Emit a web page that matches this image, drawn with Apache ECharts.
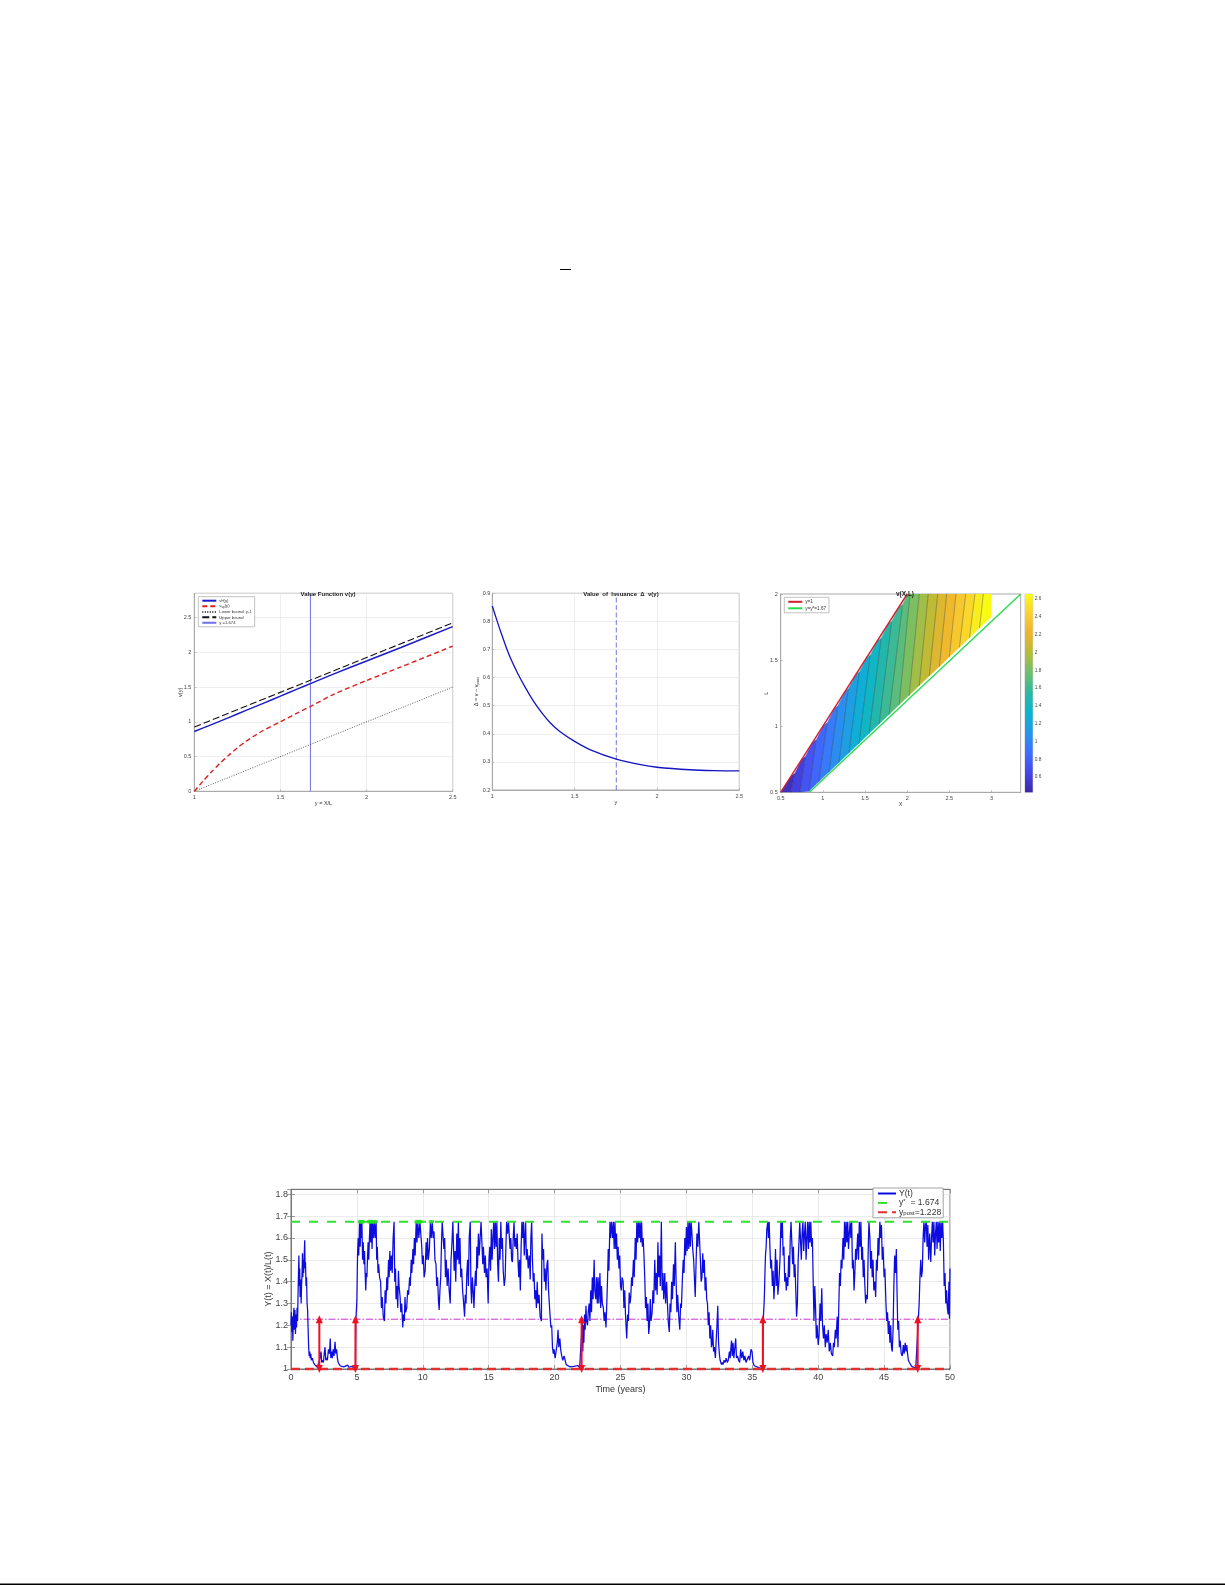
<!DOCTYPE html><html><head><meta charset="utf-8"><script src="https://cdn.jsdelivr.net/npm/echarts@6/dist/echarts.min.js"></script></head><body style="margin:0;background:#fff"><div id="c" style="width:1225px;height:1585px"></div><script>
// ---- Panel 1: value function
var vY=[1,1.1,1.2,1.3,1.4,1.5,1.6,1.674,1.8,2,2.2,2.5];
var vBlue=[.86,.96,1.06,1.165,1.265,1.37,1.475,1.55,1.68,1.875,2.07,2.37];
var redY=[1,1.05,1.1,1.15,1.2,1.25,1.3,1.4,1.5,1.6,1.674,1.8,2,2.2,2.5];
var vRed=[0,.145,.28,.405,.52,.625,.72,.875,1.0,1.13,1.22,1.385,1.595,1.79,2.09];
var upperY=[1,2.5], vUpper=[.925,2.425];
var lowerY=[1,2.5], vLower=[0,1.5];
var yStar=1.674;
// ---- Panel 2: issuance value
var issY=[1,1.03,1.05,1.1,1.15,1.2,1.25,1.3,1.35,1.41,1.5,1.6,1.753,1.9,2,2.2,2.35,2.5];
var issV=[.855,.8,.765,.684,.62,.565,.516,.475,.44,.408,.373,.342,.31,.29,.281,.272,.269,.268];
var issVline=1.753;
// ---- Panel 3: contour bands (levels, contour line end points)
var contourLevels=[.44,.55,.66,.77,.88,.99,1.10,1.21,1.32,1.43,1.54,1.65,1.76,1.87,1.98,2.09,2.2,2.31,2.42,2.53,2.64,2.75];
var contourBottomX=[.5,.62,.727,.834,.953,1.072,1.191,1.31,1.429,1.548,1.667,1.786,1.905,2.024,2.143,2.262,2.382,2.5,2.62,2.739,2.858,3];
var contourBottomL=[.5,.5,.5,.508,.581,.653,.726,.799,.871,.944,1.017,1.089,1.162,1.234,1.307,1.38,1.452,1.525,1.597,1.67,1.743,1.83];
var contourTopX=[.5,.665,.79,.92,1.05,1.176,1.3,1.43,1.56,1.69,1.815,1.945,2.033,2.144,2.25,2.362,2.469,2.579,2.694,2.804,2.903,3];
var contourTopL=[.5,.64,.767,.895,1.023,1.151,1.279,1.407,1.535,1.663,1.791,1.919,2,2,2,2,2,2,2,2,2,2];
var parulaStops=['#3e26a8','#4747eb','#3e6fff','#2796eb','#08b5d0','#2cb8a0','#6cbf70','#b4bd38','#edb42c','#fccf30','#f9fb15'];
var colorMin=.428,colorMax=2.656;
var colorTicks=[.6,.8,1,1.2,1.4,1.6,1.8,2,2.2,2.4,2.6];
var redBoundaryL=[.5,2], greenBoundaryX=[.84,3.346], greenBoundaryL=[.5,2];
// ---- Panel 4: simulated path
var yPost=1.228;
var issueTimes=[2.15,4.89,22.05,35.8,47.55];
var barrierHits=[5.2,5.3,5.38,5.45,5.9,6,6.1,6.2,6.33,6.46,9.5,9.62,9.7,9.78,9.85,10.58,10.72];
var pathPoints=[[0,1.2],[.03,1.26],[.06,1.17],[.1,1.24],[.14,1.13],[.18,1.22],[.22,1.28],[.26,1.18],[.3,1.27],[.34,1.16],[.38,1.25],[.42,1.19],[.46,1.28],[.5,1.22],[.54,1.36],[.57,1.44],[.6,1.52],[.63,1.38],[.66,1.46],[.69,1.33],[.73,1.41],[.77,1.3],[.8,1.38],[.84,1.44],[.87,1.53],[.9,1.42],[.93,1.5],[.96,1.44],[1,1.52],[1.04,1.59],[1.07,1.46],[1.1,1.49],[1.14,1.38],[1.18,1.42],[1.22,1.3],[1.26,1.27],[1.3,1.18],[1.34,1.1],[1.38,1.06],[1.42,1.08],[1.46,1.05],[1.5,1.07],[1.55,1.04],[1.62,1.05],[1.7,1.03],[1.8,1.02],[1.9,1.012],[2,1.008],[2.1,1],[2.15,1],[2.2,1.05],[2.28,1.08],[2.33,1.03],[2.4,1.04],[2.46,1.03],[2.52,1.07],[2.58,1.1],[2.64,1.04],[2.7,1.05],[2.76,1.04],[2.84,1.09],[2.92,1.07],[2.98,1.14],[3.02,1.05],[3.08,1.08],[3.14,1.05],[3.2,1.09],[3.27,1.06],[3.34,1.125],[3.4,1.07],[3.46,1.09],[3.52,1.05],[3.58,1.03],[3.64,1.025],[3.72,1.015],[3.85,1.012],[4,1.01],[4.15,1.006],[4.3,1.018],[4.38,1.008],[4.5,1.006],[4.62,1.012],[4.75,1.008],[4.89,1],[4.92,1.22],[4.97,1.28],[5,1.32],[5.03,1.45],[5.06,1.55],[5.1,1.6],[5.14,1.52],[5.2,1.674],[5.25,1.56],[5.3,1.674],[5.34,1.6],[5.38,1.674],[5.43,1.5],[5.48,1.58],[5.53,1.48],[5.58,1.54],[5.62,1.45],[5.67,1.36],[5.72,1.44],[5.76,1.42],[5.8,1.5],[5.85,1.58],[5.9,1.5],[5.95,1.6],[6,1.674],[6.05,1.58],[6.1,1.674],[6.15,1.55],[6.2,1.674],[6.27,1.6],[6.33,1.674],[6.4,1.6],[6.46,1.674],[6.5,1.5],[6.55,1.56],[6.6,1.44],[6.65,1.48],[6.72,1.42],[6.8,1.4],[6.86,1.28],[6.92,1.33],[7,1.24],[7.09,1.22],[7.14,1.36],[7.2,1.3],[7.27,1.42],[7.33,1.36],[7.4,1.5],[7.45,1.42],[7.5,1.54],[7.56,1.45],[7.62,1.52],[7.68,1.44],[7.75,1.6],[7.82,1.674],[7.87,1.4],[7.93,1.46],[7.97,1.32],[8.03,1.38],[8.1,1.28],[8.15,1.45],[8.2,1.38],[8.28,1.33],[8.33,1.26],[8.4,1.3],[8.48,1.19],[8.53,1.25],[8.6,1.22],[8.65,1.33],[8.7,1.26],[8.78,1.28],[8.85,1.36],[8.92,1.34],[9,1.42],[9.05,1.38],[9.12,1.5],[9.17,1.44],[9.25,1.55],[9.3,1.48],[9.36,1.6],[9.42,1.52],[9.5,1.674],[9.56,1.58],[9.62,1.674],[9.7,1.6],[9.78,1.674],[9.85,1.674],[9.92,1.56],[9.97,1.48],[10.04,1.52],[10.1,1.42],[10.18,1.45],[10.25,1.58],[10.3,1.5],[10.36,1.6],[10.42,1.5],[10.5,1.55],[10.58,1.674],[10.64,1.6],[10.72,1.674],[10.78,1.6],[10.85,1.63],[10.92,1.5],[11,1.48],[11.06,1.38],[11.12,1.42],[11.19,1.31],[11.24,1.27],[11.3,1.36],[11.36,1.42],[11.42,1.58],[11.47,1.674],[11.53,1.674],[11.6,1.55],[11.66,1.6],[11.72,1.42],[11.78,1.5],[11.85,1.38],[11.92,1.46],[12,1.36],[12.08,1.3],[12.14,1.5],[12.2,1.56],[12.28,1.674],[12.33,1.674],[12.38,1.45],[12.45,1.54],[12.5,1.4],[12.58,1.62],[12.64,1.5],[12.7,1.674],[12.75,1.48],[12.82,1.6],[12.88,1.42],[12.95,1.46],[13.02,1.36],[13.1,1.3],[13.17,1.24],[13.22,1.34],[13.28,1.3],[13.34,1.44],[13.4,1.5],[13.46,1.38],[13.52,1.6],[13.6,1.674],[13.65,1.38],[13.7,1.3],[13.76,1.42],[13.82,1.36],[13.88,1.28],[13.94,1.38],[14,1.45],[14.05,1.38],[14.1,1.56],[14.15,1.46],[14.22,1.62],[14.28,1.52],[14.35,1.6],[14.42,1.674],[14.5,1.674],[14.55,1.48],[14.6,1.56],[14.68,1.44],[14.74,1.52],[14.8,1.42],[14.88,1.46],[14.96,1.3],[15.02,1.5],[15.08,1.56],[15.14,1.45],[15.2,1.64],[15.26,1.5],[15.32,1.6],[15.38,1.674],[15.44,1.55],[15.5,1.674],[15.56,1.56],[15.62,1.674],[15.68,1.48],[15.74,1.4],[15.8,1.6],[15.86,1.5],[15.92,1.674],[15.98,1.55],[16.04,1.6],[16.1,1.45],[16.18,1.38],[16.25,1.42],[16.3,1.55],[16.36,1.674],[16.43,1.62],[16.5,1.674],[16.56,1.674],[16.62,1.55],[16.68,1.6],[16.74,1.5],[16.8,1.49],[16.86,1.6],[16.92,1.674],[16.98,1.56],[17.04,1.6],[17.1,1.55],[17.16,1.62],[17.22,1.5],[17.28,1.42],[17.34,1.5],[17.4,1.36],[17.46,1.56],[17.52,1.674],[17.58,1.6],[17.64,1.674],[17.7,1.52],[17.76,1.62],[17.8,1.674],[17.86,1.5],[17.92,1.55],[18,1.46],[18.08,1.52],[18.15,1.41],[18.2,1.6],[18.26,1.674],[18.32,1.5],[18.38,1.4],[18.44,1.44],[18.5,1.32],[18.56,1.36],[18.62,1.28],[18.68,1.4],[18.74,1.3],[18.82,1.34],[18.9,1.24],[19,1.22],[19.04,1.62],[19.1,1.5],[19.16,1.55],[19.22,1.4],[19.28,1.46],[19.34,1.36],[19.42,1.48],[19.48,1.5],[19.54,1.36],[19.6,1.3],[19.66,1.24],[19.72,1.19],[19.78,1.2],[19.84,1.1],[19.9,1.07],[19.96,1.09],[20.04,1.05],[20.13,1.05],[20.2,1.12],[20.26,1.18],[20.32,1.1],[20.4,1.14],[20.46,1.09],[20.54,1.06],[20.62,1.04],[20.72,1.06],[20.8,1.04],[20.88,1.02],[21,1.02],[21.15,1.01],[21.3,1.015],[21.45,1.012],[21.6,1.01],[21.75,1.016],[21.9,1.006],[22.05,1],[22.1,1.22],[22.14,1.08],[22.18,1.2],[22.22,1.12],[22.27,1.25],[22.32,1.18],[22.38,1.29],[22.42,1.22],[22.5,1.2],[22.55,1.26],[22.62,1.3],[22.68,1.22],[22.74,1.36],[22.8,1.26],[22.86,1.42],[22.92,1.32],[23,1.5],[23.05,1.36],[23.12,1.32],[23.18,1.42],[23.24,1.3],[23.3,1.42],[23.36,1.3],[23.44,1.44],[23.5,1.28],[23.56,1.38],[23.62,1.3],[23.7,1.28],[23.76,1.22],[23.82,1.26],[23.9,1.19],[23.96,1.3],[24.02,1.42],[24.07,1.55],[24.12,1.45],[24.2,1.674],[24.25,1.6],[24.32,1.674],[24.4,1.6],[24.46,1.674],[24.52,1.55],[24.58,1.674],[24.64,1.55],[24.7,1.62],[24.76,1.5],[24.82,1.56],[24.88,1.46],[24.94,1.52],[25,1.38],[25.06,1.36],[25.12,1.42],[25.2,1.4],[25.26,1.28],[25.32,1.36],[25.38,1.25],[25.47,1.14],[25.54,1.25],[25.6,1.22],[25.66,1.35],[25.72,1.3],[25.78,1.33],[25.84,1.42],[25.9,1.38],[25.98,1.5],[26.04,1.42],[26.12,1.6],[26.18,1.5],[26.24,1.674],[26.3,1.58],[26.36,1.674],[26.42,1.6],[26.48,1.674],[26.54,1.58],[26.6,1.674],[26.66,1.56],[26.72,1.6],[26.78,1.52],[26.84,1.42],[26.9,1.28],[26.96,1.33],[27.02,1.22],[27.08,1.3],[27.14,1.16],[27.2,1.2],[27.26,1.32],[27.32,1.22],[27.4,1.26],[27.46,1.36],[27.52,1.3],[27.6,1.5],[27.66,1.36],[27.72,1.44],[27.78,1.34],[27.84,1.58],[27.9,1.42],[27.96,1.52],[28.02,1.38],[28.1,1.674],[28.16,1.36],[28.22,1.44],[28.28,1.32],[28.36,1.44],[28.42,1.3],[28.5,1.4],[28.56,1.3],[28.62,1.22],[28.7,1.17],[28.76,1.3],[28.82,1.26],[28.88,1.4],[28.94,1.32],[29.02,1.48],[29.08,1.38],[29.16,1.58],[29.22,1.4],[29.28,1.26],[29.34,1.34],[29.42,1.24],[29.5,1.18],[29.56,1.3],[29.62,1.28],[29.7,1.42],[29.76,1.5],[29.82,1.44],[29.88,1.6],[29.94,1.52],[30,1.65],[30.06,1.54],[30.12,1.674],[30.18,1.55],[30.24,1.674],[30.3,1.56],[30.36,1.674],[30.42,1.62],[30.48,1.55],[30.55,1.5],[30.62,1.4],[30.67,1.33],[30.74,1.5],[30.8,1.62],[30.87,1.56],[30.94,1.674],[31,1.674],[31.06,1.5],[31.12,1.4],[31.18,1.42],[31.24,1.53],[31.3,1.44],[31.36,1.5],[31.42,1.36],[31.48,1.42],[31.54,1.32],[31.6,1.3],[31.66,1.2],[31.72,1.26],[31.78,1.14],[31.84,1.2],[31.9,1.1],[31.96,1.12],[32,1.18],[32.06,1.08],[32.12,1.1],[32.2,1.05],[32.25,1.12],[32.32,1.2],[32.38,1.29],[32.44,1.12],[32.5,1.07],[32.56,1.04],[32.66,1.02],[32.72,1.03],[32.78,1.02],[32.86,1.04],[32.94,1.03],[33.02,1.05],[33.1,1.03],[33.18,1.04],[33.26,1.08],[33.32,1.05],[33.42,1.13],[33.48,1.06],[33.54,1.12],[33.6,1.05],[33.66,1.09],[33.74,1.14],[33.8,1.05],[33.88,1.06],[33.96,1.04],[34.04,1.03],[34.12,1.09],[34.2,1.05],[34.28,1.08],[34.36,1.04],[34.44,1.06],[34.52,1.03],[34.6,1.03],[34.72,1.06],[34.8,1.04],[34.9,1.09],[34.98,1.08],[35.05,1.03],[35.15,1.015],[35.3,1.012],[35.5,1.006],[35.8,1],[35.83,1.23],[35.88,1.28],[35.92,1.34],[35.96,1.44],[36,1.52],[36.05,1.56],[36.1,1.64],[36.17,1.674],[36.22,1.6],[36.28,1.674],[36.34,1.55],[36.4,1.46],[36.46,1.5],[36.52,1.38],[36.58,1.45],[36.64,1.32],[36.7,1.4],[36.76,1.55],[36.82,1.38],[36.88,1.5],[36.94,1.34],[37.02,1.4],[37.1,1.5],[37.17,1.674],[37.22,1.6],[37.28,1.674],[37.34,1.52],[37.4,1.56],[37.46,1.4],[37.52,1.44],[37.58,1.36],[37.64,1.42],[37.7,1.38],[37.76,1.52],[37.82,1.42],[37.88,1.6],[37.94,1.674],[38,1.674],[38.06,1.48],[38.12,1.56],[38.18,1.42],[38.24,1.48],[38.3,1.36],[38.36,1.24],[38.42,1.3],[38.48,1.5],[38.54,1.58],[38.6,1.674],[38.66,1.674],[38.72,1.5],[38.78,1.62],[38.84,1.674],[38.9,1.54],[38.96,1.62],[39.02,1.674],[39.08,1.5],[39.14,1.6],[39.2,1.674],[39.26,1.55],[39.32,1.674],[39.38,1.58],[39.44,1.674],[39.5,1.56],[39.56,1.6],[39.62,1.4],[39.68,1.22],[39.74,1.38],[39.8,1.28],[39.86,1.14],[39.92,1.2],[40,1.11],[40.06,1.15],[40.14,1.3],[40.2,1.22],[40.27,1.37],[40.33,1.2],[40.4,1.14],[40.46,1.2],[40.54,1.1],[40.6,1.16],[40.68,1.12],[40.76,1.18],[40.84,1.08],[40.92,1.12],[41,1.07],[41.1,1.06],[41.16,1.12],[41.22,1.1],[41.3,1.18],[41.36,1.14],[41.44,1.24],[41.5,1.1],[41.55,1.25],[41.62,1.44],[41.68,1.38],[41.74,1.5],[41.8,1.46],[41.88,1.6],[41.94,1.5],[42,1.674],[42.06,1.56],[42.12,1.674],[42.18,1.58],[42.24,1.674],[42.3,1.55],[42.36,1.62],[42.42,1.674],[42.48,1.6],[42.54,1.674],[42.6,1.46],[42.66,1.5],[42.72,1.36],[42.78,1.44],[42.84,1.55],[42.9,1.5],[43,1.62],[43.06,1.5],[43.12,1.674],[43.18,1.56],[43.24,1.674],[43.3,1.5],[43.36,1.56],[43.42,1.42],[43.48,1.5],[43.54,1.38],[43.6,1.3],[43.66,1.34],[43.73,1.32],[43.8,1.56],[43.85,1.674],[43.92,1.6],[43.98,1.46],[44.04,1.54],[44.1,1.42],[44.16,1.5],[44.22,1.36],[44.3,1.4],[44.36,1.33],[44.42,1.5],[44.48,1.45],[44.54,1.6],[44.6,1.52],[44.68,1.674],[44.74,1.6],[44.8,1.66],[44.86,1.5],[44.92,1.56],[45,1.42],[45.06,1.46],[45.14,1.3],[45.2,1.22],[45.26,1.26],[45.32,1.16],[45.38,1.22],[45.44,1.12],[45.5,1.2],[45.56,1.1],[45.62,1.08],[45.68,1.18],[45.74,1.38],[45.8,1.52],[45.86,1.44],[45.93,1.55],[45.98,1.36],[46.04,1.18],[46.1,1.22],[46.16,1.1],[46.22,1.13],[46.3,1.07],[46.38,1.06],[46.46,1.11],[46.52,1.07],[46.6,1.12],[46.66,1.08],[46.72,1.11],[46.78,1.07],[46.84,1.04],[46.92,1.03],[47,1.025],[47.1,1.012],[47.25,1.006],[47.4,1.003],[47.55,1],[47.6,1.23],[47.66,1.3],[47.72,1.42],[47.78,1.5],[47.84,1.42],[47.9,1.45],[47.96,1.6],[48.02,1.674],[48.08,1.58],[48.14,1.66],[48.2,1.674],[48.26,1.56],[48.32,1.66],[48.38,1.5],[48.46,1.62],[48.54,1.49],[48.6,1.6],[48.66,1.674],[48.72,1.58],[48.78,1.674],[48.84,1.52],[48.9,1.62],[48.96,1.674],[49.02,1.55],[49.08,1.674],[49.14,1.58],[49.2,1.674],[49.26,1.54],[49.32,1.674],[49.38,1.6],[49.44,1.674],[49.5,1.58],[49.56,1.38],[49.62,1.44],[49.68,1.3],[49.74,1.36],[49.8,1.28],[49.86,1.25],[49.92,1.4],[49.96,1.23],[50,1.46]];

var FONT='"Liberation Sans",Arial,sans-serif';
function zip(a,b){return a.map(function(v,i){return [v,b[i]];});}
function parula(t){
  t=Math.max(0,Math.min(1,t))*(parulaStops.length-1);
  var i=Math.min(Math.floor(t),parulaStops.length-2),f=t-i;
  function rgb(h){return [1,3,5].map(function(k){return parseInt(h.substr(k,2),16);});}
  var a=rgb(parulaStops[i]),b=rgb(parulaStops[i+1]);
  return 'rgb('+a.map(function(v,k){return Math.round(v+(b[k]-v)*f);}).join(',')+')';
}
function axis(o,fs,len,split,color){
  var a={gridIndex:o.g,type:'value',min:o.min,max:o.max,interval:o.step,position:o.pos,
    name:o.name,nameLocation:'middle',nameGap:o.gap,nameMoveOverlap:false,
    nameTextStyle:{fontFamily:FONT,fontSize:o.nfs||fs,color:'#333',rich:{s:{fontSize:(o.nfs||fs)*.7,fontFamily:FONT,color:'#333',verticalAlign:'bottom',padding:[3,0,0,0]}}},
    axisLine:{show:true,lineStyle:{color:color,width:1}},
    axisTick:{show:true,inside:true,length:len,lineStyle:{color:color,width:.7}},
    axisLabel:{show:o.labels!==false,fontFamily:FONT,fontSize:fs,color:'#444',margin:o.margin||3,showMaxLabel:o.maxLabel===true,showMinLabel:true,hideOverlap:false},
    splitLine:{show:!!split,lineStyle:{color:split||'#eee',width:.7}}};
  return a;
}
var grids=[
 {left:194.3,top:593.3,width:258.4,height:198,show:true,borderColor:'#aaa',borderWidth:1},
 {left:492.3,top:593.3,width:247,height:196.7,show:true,borderColor:'#aaa',borderWidth:1},
 {left:780.7,top:594,width:240,height:198.3,show:true,borderColor:'#aaa',borderWidth:1},
 {left:1025,top:594,width:7.7,height:198.3,show:true,borderColor:'#999',borderWidth:.5},
 {left:291,top:1189.3,width:659,height:179.7,show:true,borderColor:'#777',borderWidth:1}
];
var xAxes=[
 axis({g:0,min:1,max:2.5,step:.5,name:'y = X/L',gap:9,maxLabel:true},5.5,2,'#e6e6e6','#aaa'),
 axis({g:1,min:1,max:2.5,step:.5,name:'y',gap:9,maxLabel:true},5.5,2,'#e6e6e6','#aaa'),
 axis({g:2,min:.5,max:3.346,step:.5,name:'X',gap:9},5.5,2,null,'#aaa'),
 {gridIndex:3,type:'value',min:0,max:1,show:false},
 axis({g:4,min:0,max:50,step:5,name:'Time (years)',gap:16,nfs:9,margin:4,maxLabel:true},9,4,'#e2e2e2','#777'),
 axis({g:4,min:0,max:50,step:5,pos:'top',labels:false},9,4,null,'#777')
];
var yAxes=[
 axis({g:0,min:0,max:2.85,step:.5,name:'v(y)',gap:10.5},5.5,2,'#e6e6e6','#aaa'),
 axis({g:1,min:.2,max:.9,step:.1,name:'Δ = v − v{s|post}',gap:12,margin:2,maxLabel:true},5.5,2,'#e6e6e6','#aaa'),
 axis({g:2,min:.5,max:2,step:.5,name:'L',gap:11,maxLabel:true},5.5,2,null,'#aaa'),
 {gridIndex:3,type:'value',min:colorMin,max:colorMax,position:'right',
  axisLine:{show:false},axisTick:{show:false,customValues:colorTicks},splitLine:{show:false},
  axisLabel:{customValues:colorTicks,fontFamily:FONT,fontSize:4.8,color:'#444',margin:2}},
 axis({g:4,min:1,max:1.823,step:.1,name:'Y(t) = X(t)/L(t)',gap:18,nfs:9,margin:3},9,4,'#e2e2e2','#777'),
 axis({g:4,min:1,max:1.823,step:.1,pos:'right',labels:false},9,4,null,'#777')
];
function line(name,xi,data,color,width,dash,extra){
  var s={type:'line',name:name,xAxisIndex:xi,yAxisIndex:xi,data:data,symbol:'none',silent:true,
    lineStyle:{color:color,width:width,type:dash||'solid'},itemStyle:{color:color}};
  for(var k in extra||{})s[k]=extra[k];
  return s;
}
var N_H='v{s|H}(y)',N_U='v{s|up}(y)',N_L='Lower bound: y-1',N_B='Upper bound',N_V='y =1.674';
var N_Y='Y(t)',N_S='y{t|*}  = 1.674',N_P='y{s|post}=1.228';
var N_R='y=1',N_G='y=y*=1.67';
var series=[
 line(N_V,0,[[yStar,0],[yStar,2.85]],'#7070e8',1),
 line(N_L,0,zip(lowerY,vLower),'#333',.8,[1,1.5]),
 line(N_B,0,zip(upperY,vUpper),'#111',1.1,[7,3]),
 line(N_U,0,zip(redY,vRed),'#dc2020',1.4,[5,3],{smooth:.25}),
 line(N_H,0,zip(vY,vBlue),'#1c1ccc',1.5,'solid',{smooth:.2}),
 line('issVline',1,[[issVline,.2],[issVline,.9]],'#6666dd',.9,[5,2.5]),
 line('issuance',1,zip(issY,issV),'#1414c0',1.3,'solid',{smooth:.3}),
 {type:'custom',xAxisIndex:2,yAxisIndex:2,silent:true,clip:true,z:2,
  data:contourLevels.slice(0,-1).map(function(c,i){return [i];}),
  renderItem:function(p,api){
    var i=api.value(0),j=i+1;
    var pts=[[contourBottomX[i],contourBottomL[i]],[contourBottomX[j],contourBottomL[j]],[contourTopX[j],contourTopL[j]]];
    if(contourTopL[i]<2){
      var pk=contourTopL[j]<2?contourTopL[j]-.015:2;
      pts.push([pk,pk]);
    }
    pts.push([contourTopX[i],contourTopL[i]]);
    var col=parula(((contourLevels[i]+contourLevels[j])/2-colorMin)/(colorMax-colorMin));
    var kids=[{type:'polygon',shape:{points:pts.map(function(q){return api.coord(q);})},style:{fill:col,stroke:col,lineWidth:.4}}];
    if(j<contourLevels.length-1){
      kids.push({type:'line',shape:{x1:api.coord(pts[1])[0],y1:api.coord(pts[1])[1],x2:api.coord(pts[2])[0],y2:api.coord(pts[2])[1]},style:{stroke:'rgba(25,40,50,.75)',lineWidth:.45},z2:5});
    }
    return {type:'group',children:kids};
  }},
 line(N_R,2,zip(redBoundaryL,redBoundaryL),'#d02030',1.4,'solid',{z:4}),
 line(N_G,2,zip(greenBoundaryX,greenBoundaryL),'#28dc50',1.4,'solid',{z:4}),
 {type:'custom',xAxisIndex:3,yAxisIndex:3,silent:true,data:[[0]],
  renderItem:function(p,api){
    var a=api.coord([0,colorMax]),b=api.coord([1,colorMin]);
    return {type:'rect',shape:{x:a[0],y:a[1],width:b[0]-a[0],height:b[1]-a[1]},
      style:{fill:new echarts.graphic.LinearGradient(0,1,0,0,parulaStops.map(function(c,i){return {offset:i/(parulaStops.length-1),color:c};}))}};
  }},
 line('yPost',4,[[0,yPost],[50,yPost]],'#d030d0',1,[7,2,1.5,2],{xAxisIndex:4,yAxisIndex:4}),
 line(N_Y,4,pathPoints,'#0c0ce0',1.25,'solid',{xAxisIndex:4,yAxisIndex:4,z:3}),
 line(N_S,4,[[0,yStar],[50,yStar]],'#30e030',2,[9,9],{xAxisIndex:4,yAxisIndex:4,z:4}),
 line(N_P,4,[[0,1],[50,1]],'#e03030',2.5,[9,5],{xAxisIndex:4,yAxisIndex:4,clip:false,z:4}),
 {type:'scatter',xAxisIndex:4,yAxisIndex:4,silent:true,symbolSize:4,z:4,itemStyle:{color:'#20e020'},data:barrierHits.map(function(t){return [t,yStar];})}
];
issueTimes.forEach(function(t){
  series.push({type:'line',xAxisIndex:4,yAxisIndex:4,silent:true,z:5,clip:false,lineStyle:{color:'#f01020',width:2},itemStyle:{color:'#f01020'},
    symbol:'triangle',symbolSize:[7,8],showSymbol:true,
    data:[{value:[t,1],symbolRotate:180},{value:[t,yPost],symbolRotate:0}]});
});
function legend(names,x,y,fs,iw,gap,pad,bw,h){
  return {show:true,orient:'vertical',left:x,top:y,data:names,selectedMode:false,itemWidth:iw,itemHeight:h||3,itemGap:gap,padding:pad,
    backgroundColor:'#fff',borderColor:'#999',borderWidth:bw,align:'left',itemStyle:{opacity:0},lineStyle:{opacity:1},
    textStyle:{fontFamily:FONT,fontSize:fs,color:'#333',padding:[0,0,0,-2],rich:{s:{fontFamily:FONT,fontSize:fs*.7,color:'#333',padding:[fs*.35,0,0,0]},t:{fontFamily:FONT,fontSize:fs*.7,color:'#333',padding:[0,0,fs*.3,0]}}}};
}
var option={animation:false,backgroundColor:'#fff',tooltip:{show:false},
 title:[
  {text:'Value Function v(y)',left:323,top:586,textAlign:'center',textStyle:{fontFamily:FONT,fontSize:6,fontWeight:'bold',color:'#222'}},
  {text:'Value  of  Issuance  Δ  v(y)',left:616,top:586,textAlign:'center',textStyle:{fontFamily:FONT,fontSize:6,fontWeight:'bold',color:'#222'}},
  {text:'v(X,L)',left:900,top:586,textAlign:'center',textStyle:{fontFamily:FONT,fontSize:6.5,fontWeight:'bold',color:'#222'}}
 ],
 grid:grids,xAxis:xAxes,yAxis:yAxes,series:series,
 legend:[
  legend([N_H,N_U,N_L,N_B,N_V],198.3,596.7,4.2,14,1.4,[2,3,2,3],.6),
  legend([N_R,N_G],784.3,597.3,4.6,14,1.5,[2,3,2,3],.6),
  legend([N_Y,N_S,N_P],873,1188,8.6,18,.4,[1,2,1,4],.9,10)
 ],
 graphic:[
  {type:'rect',shape:{x:560,y:269,width:11,height:1},style:{fill:'#000'}},
  {type:'rect',shape:{x:0,y:1583.5,width:1225,height:1.5},style:{fill:'#000'}}
 ]
};
var chart=echarts.init(document.getElementById('c'),null,{renderer:'canvas'});
chart.setOption(option);
</script></body></html>
